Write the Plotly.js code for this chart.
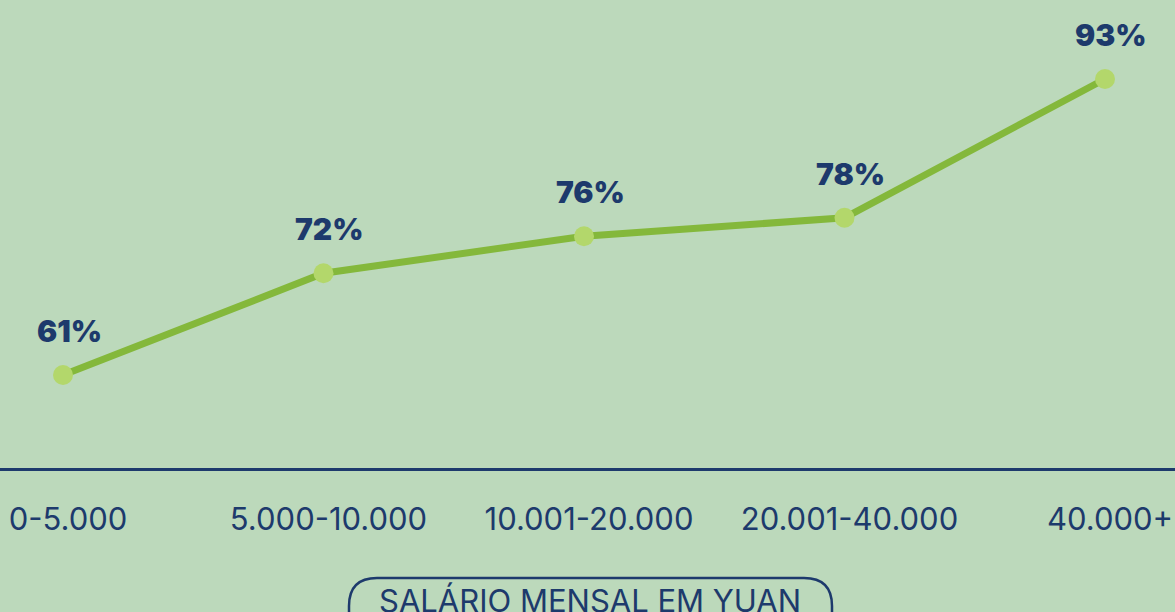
<!DOCTYPE html>
<html>
<head>
<meta charset="utf-8">
<script src="https://cdn.plot.ly/plotly-3.0.1.min.js"></script>
<style>html,body{margin:0;padding:0;background:#bcd9bb;}#chart{width:1175px;height:612px;}</style>
</head>
<body>
<div id="chart"></div>
<script>
const categories = ["0-5.000", "5.000-10.000", "10.001-20.000", "20.001-40.000", "40.000+"];
const values = [61, 72, 76, 78, 93];
const valueLabels = ["61%", "72%", "76%", "78%", "93%"];
const axisTitle = "SALÁRIO MENSAL EM YUAN";

const W = 1175, PLOT_H = 468;
const X = px => px / W;
const Y = py => (PLOT_H - py) / PLOT_H;

const navy = "#1d3a6c";
const bg = "#bcd9bb";

const trace = {
  x: categories,
  y: values,
  type: "scatter",
  mode: "lines+markers",
  line: {color: "#84b83b", width: 7},
  marker: {color: "#b3d76b", size: 20},
  hoverinfo: "skip",
  cliponaxis: false
};

const annotations = categories.map((c, i) => ({
  x: c, y: values[i], xref: "x", yref: "y",
  text: valueLabels[i], showarrow: false,
  xshift: 6, yshift: 44,
  font: {family: "Inter, Roboto, sans-serif", size: 30, color: navy, weight: 900}
}));

annotations.push({
  x: X(590), y: Y(600), xref: "paper", yref: "paper",
  text: axisTitle, showarrow: false, xanchor: "center", yanchor: "middle",
  font: {family: "Inter, Roboto, sans-serif", size: 31, color: navy}
});

const L = 349, R = 832, T = 578, B = 660, r = 28;
const boxPath = `M ${X(L + r)},${Y(T)} L ${X(R - r)},${Y(T)} Q ${X(R)},${Y(T)} ${X(R)},${Y(T + r)} L ${X(R)},${Y(B)} L ${X(L)},${Y(B)} L ${X(L)},${Y(T + r)} Q ${X(L)},${Y(T)} ${X(L + r)},${Y(T)} Z`;

const layout = {
  width: 1175, height: 612,
  paper_bgcolor: bg, plot_bgcolor: bg,
  margin: {l: 0, r: 0, t: 0, b: 144},
  showlegend: false,
  xaxis: {
    type: "category",
    range: [-63 / 260.5, 4 + 70 / 260.5],
    showgrid: false, zeroline: false,
    showline: true, linecolor: navy, linewidth: 2.5,
    ticks: "", ticklabelstandoff: 22, ticklabelshift: 5,
    tickfont: {family: "Inter, Roboto, sans-serif", size: 31, color: navy},
    fixedrange: true
  },
  yaxis: {
    range: [50.95, 101.54],
    showgrid: false, zeroline: false, showline: false, showticklabels: false,
    fixedrange: true
  },
  annotations: annotations,
  shapes: [{
    type: "path", xref: "paper", yref: "paper", path: boxPath,
    line: {color: navy, width: 2.5}, fillcolor: "rgba(0,0,0,0)"
  }]
};

Plotly.newPlot("chart", [trace], layout, {displayModeBar: false, staticPlot: true});
</script>
</body>
</html>
